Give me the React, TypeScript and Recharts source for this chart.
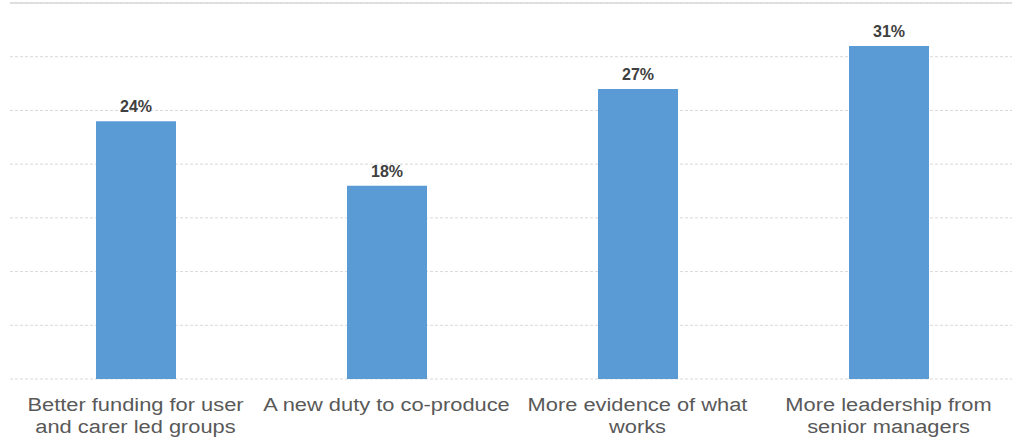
import React from 'react';
import { BarChart, Bar, XAxis, YAxis, CartesianGrid, LabelList, ReferenceLine } from 'recharts';

const categories = ['Better funding for user and carer led groups', 'A new duty to co-produce', 'More evidence of what works', 'More leadership from senior managers'];
const tickLines = [
  ['Better funding for user', 'and carer led groups'],
  ['A new duty to co-produce'],
  ['More evidence of what', 'works'],
  ['More leadership from', 'senior managers'],
];
const values = [24, 18, 27, 31];
const yTicks = [0, 5, 10, 15, 20, 25, 30, 35];

const data = categories.map((c, i) => ({ name: c, value: values[i], idx: i }));

const CategoryTick = (props: any) => {
  const { x, y, index } = props;
  const lines = tickLines[index] || [];
  return (
    <g transform={`translate(${x},${y}) scale(1.15,1)`}>
      {lines.map((l, i) => (
        <text key={i} x={0} y={24 + i * 22} textAnchor="middle" fill="#595959" fontSize={19} fontFamily="Liberation Sans, Arial, sans-serif">
          {l}
        </text>
      ))}
    </g>
  );
};

const App: React.FC = () => {
  return (
    <div style={{ position: 'absolute', left: 0, top: 0, width: 1012, height: 439, background: '#fff' }}>
      <BarChart width={1012} height={439} data={data} margin={{ top: 3, right: -2, left: 10, bottom: 0 }}>
        <CartesianGrid vertical={false} stroke="#d9d9d9" strokeDasharray="3 2" />
        <ReferenceLine y={35} stroke="#d9d9d9" strokeWidth={1.5} />
        <YAxis hide domain={[0, 35]} ticks={yTicks} />
        <XAxis dataKey="name" axisLine={false} tickLine={false} interval={0} height={60} tick={<CategoryTick />} />
        <Bar dataKey="value" fill="#5b9bd5" barSize={80} isAnimationActive={false}>
          <LabelList dataKey="value" position="top" offset={9} formatter={(v: any) => `${v}%`} fill="#404040" fontSize={16} fontWeight="bold" fontFamily="Liberation Sans, Arial, sans-serif" />
        </Bar>
      </BarChart>
    </div>
  );
};

export default App;
